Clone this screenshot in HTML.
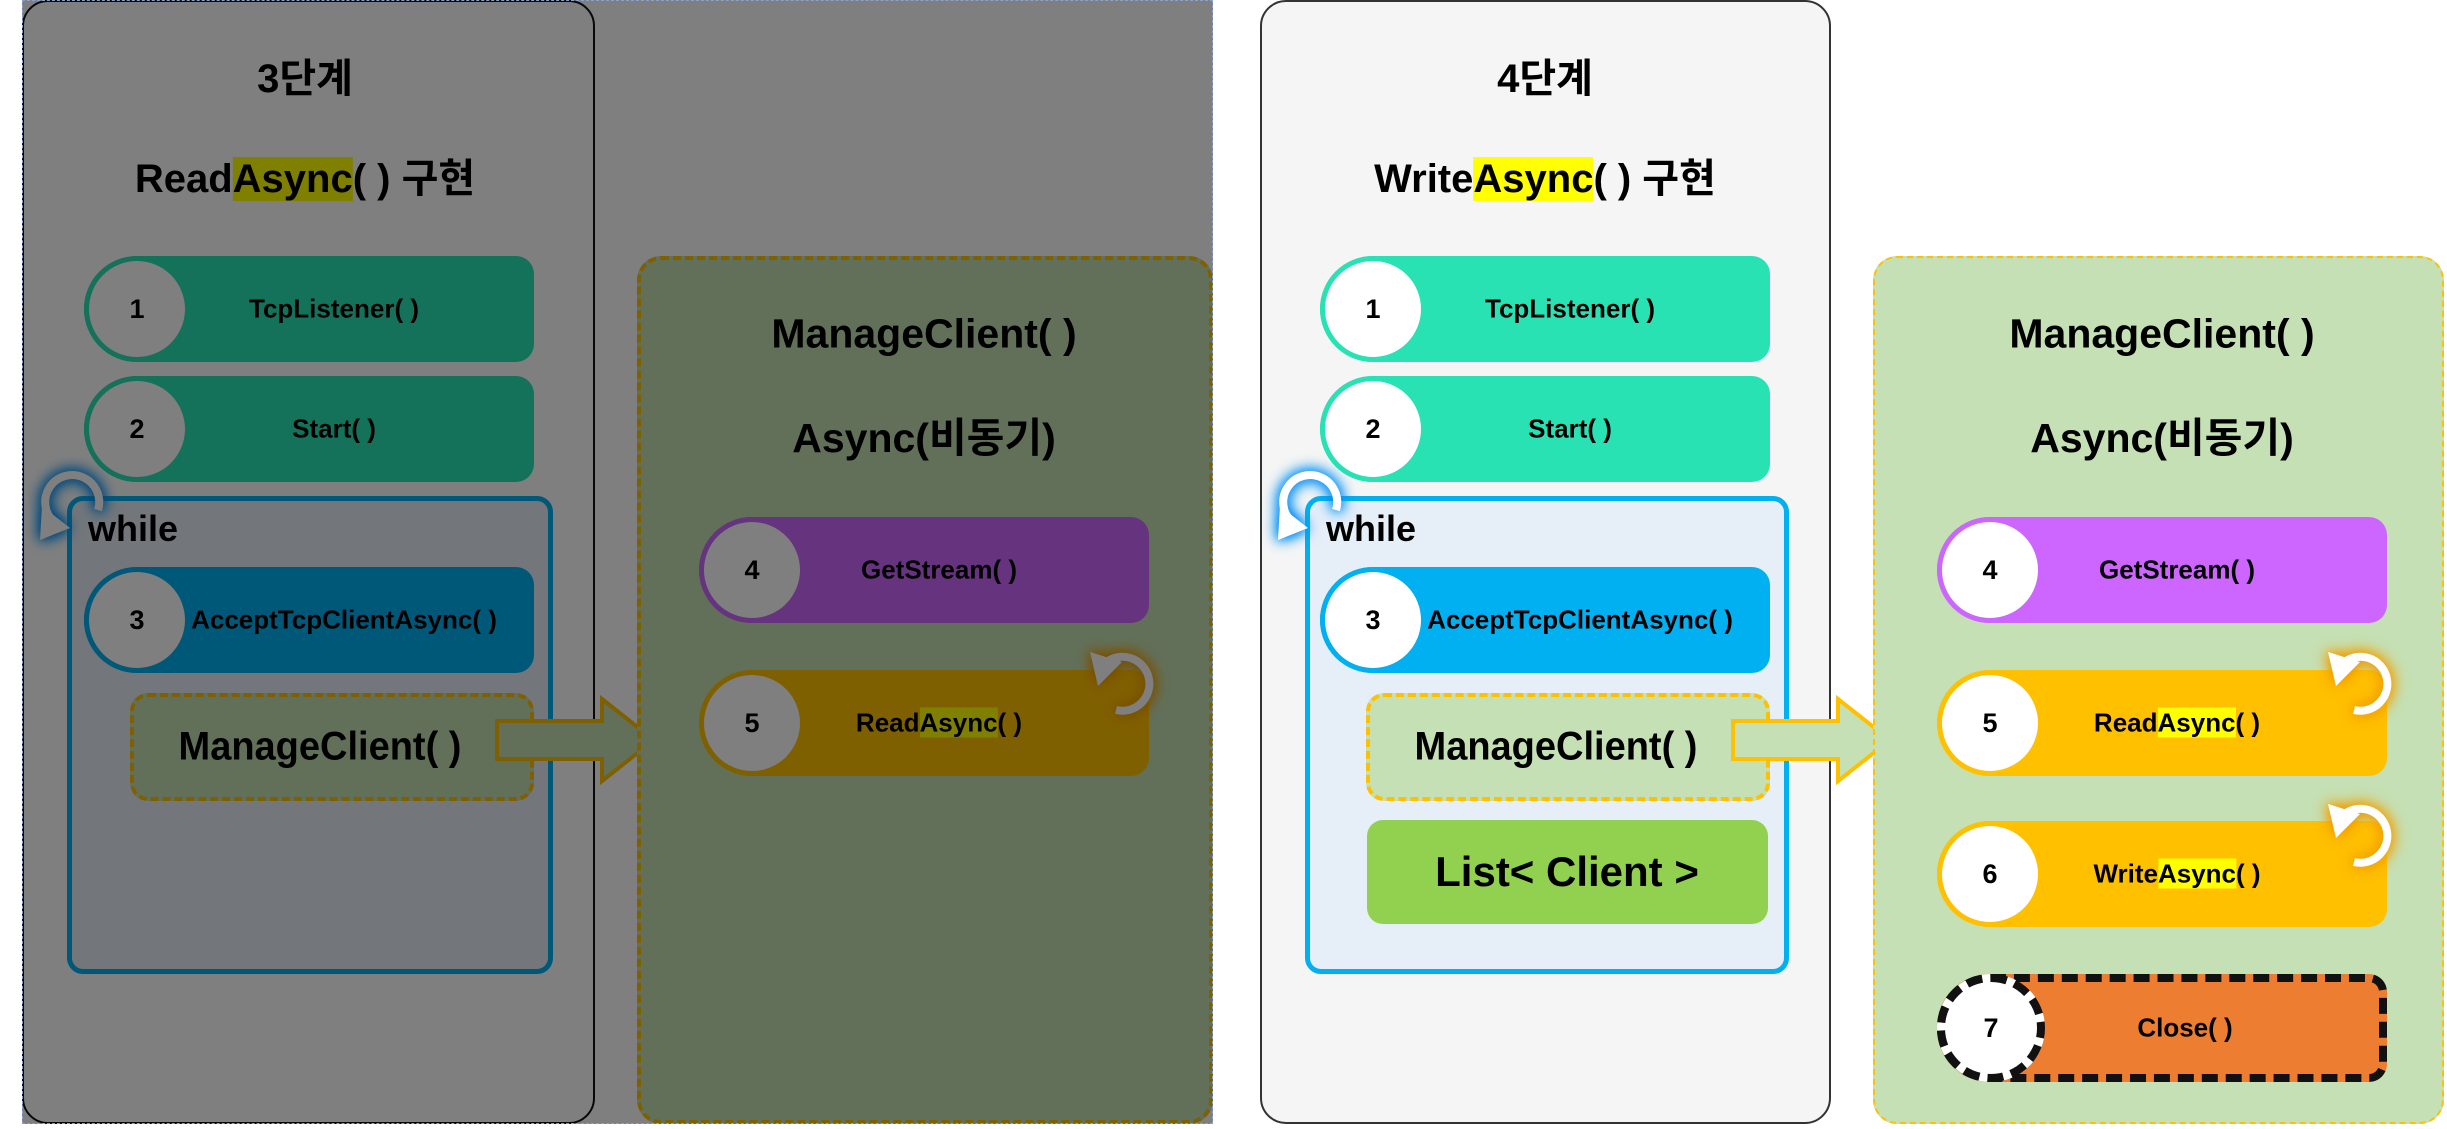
<!DOCTYPE html>
<html><head><meta charset="utf-8">
<style>
body{margin:0;width:2447px;height:1129px;background:#fff;position:relative;overflow:hidden;font-family:"Liberation Sans","Noto Sans CJK KR",sans-serif;font-weight:bold;color:#000}
.a{position:absolute}
.panel{position:absolute;box-sizing:border-box}
.t{position:absolute;white-space:nowrap;transform:translate(-50%,-50%);font-weight:bold}
.pill{position:absolute;box-sizing:border-box;height:106px;width:450px;border-radius:53px 18px 18px 53px}
.circ{position:absolute;left:0;top:0;width:106px;height:106px;box-sizing:border-box;border-radius:50%;background:#fff;border:5px solid;display:flex;align-items:center;justify-content:center;font-size:27px}
.pt{position:absolute;top:53px;transform:translate(-50%,-50%);white-space:nowrap;font-size:26px}
.hl{background:#ffff00}
.grp{position:absolute;left:0;top:0;width:2447px;height:1129px}
.mc{font-size:40px;font-weight:bold;transform:translate(-50%,-50%) scaleX(0.95)}
</style></head><body>

<!-- RIGHT (4단계) -->
<div class="grp" id="R">
  <div class="panel" style="left:1260px;top:0;width:571px;height:1124px;border:2px solid #333;border-radius:26px;background:#f5f5f5"></div>
  <div class="t" style="left:1545px;top:75px;font-size:40px">4단계</div>
  <div class="t" style="left:1545px;top:175px;font-size:40px">Write<span class="hl">Async</span>( ) 구현</div>

  <div class="pill" style="left:1320px;top:256px;background:#28e2b4"><div class="circ" style="border-color:#28e2b4">1</div><div class="pt" style="left:250px">TcpListener( )</div></div>
  <div class="pill" style="left:1320px;top:376px;background:#28e2b4"><div class="circ" style="border-color:#28e2b4">2</div><div class="pt" style="left:250px">Start( )</div></div>

  <div class="panel" style="left:1305px;top:496px;width:484px;height:478px;border:5px solid #00b0f0;border-radius:16px;background:#e6eef8"></div>
  <div class="a" style="left:1326px;top:508px;font-size:36px">while</div>
  <div class="pill" style="left:1320px;top:567px;background:#00b0f0"><div class="circ" style="border-color:#00b0f0">3</div><div class="pt" style="left:260px">AcceptTcpClientAsync( )</div></div>

  <div class="panel" style="left:1366px;top:693px;width:404px;height:108px;border:4px dashed #ffc000;border-radius:18px;background:#c5e0b4"></div>
  <div class="t mc" style="left:1556px;top:747px">ManageClient( )</div>
  <div class="panel" style="left:1367px;top:820px;width:401px;height:104px;border-radius:16px;background:#92d050"></div>
  <div class="t" style="left:1567px;top:872px;font-size:42px">List&lt; Client &gt;</div>

  <svg class="a" style="left:1730px;top:695px" width="170" height="92"><polygon points="3,26 108,26 108,4 160,45 108,86 108,64 3,64" fill="#c5e0b4" stroke="#ffc000" stroke-width="4"/></svg>

  <div class="panel" style="left:1873px;top:256px;width:571px;height:868px;border:2px dashed #ffc000;border-radius:24px;background:#c5e0b4"></div>
  <div class="t" style="left:2162px;top:334px;font-size:41px">ManageClient( )</div>
  <div class="t" style="left:2162px;top:434px;font-size:41px">Async(비동기)</div>

  <div class="pill" style="left:1937px;top:517px;background:#cc66ff"><div class="circ" style="border-color:#cc66ff">4</div><div class="pt" style="left:240px">GetStream( )</div></div>
  <div class="pill" style="left:1937px;top:670px;background:#ffc000"><div class="circ" style="border-color:#ffc000">5</div><div class="pt" style="left:240px">Read<span class="hl">Async</span>( )</div></div>
  <div class="pill" style="left:1937px;top:821px;background:#ffc000"><div class="circ" style="border-color:#ffc000">6</div><div class="pt" style="left:240px">Write<span class="hl">Async</span>( )</div></div>
  <div class="pill" style="left:1937px;top:974px;background:#ed7d31;border:8px dashed #111;height:108px"><div class="circ" style="border:8px dashed #111;left:-8px;top:-8px;width:108px;height:108px">7</div><div class="pt" style="left:240px;top:46px">Close( )</div></div>

  <svg class="a" style="left:2318px;top:638px;filter:drop-shadow(0 0 7px #e39000) drop-shadow(0 0 5px #ffb000)" width="90" height="90"><path d="M24,26 A27,27 0 1 1 36,72" fill="none" stroke="#fff" stroke-width="8"/><polygon points="10,14 42,24 18,48" fill="#fff"/></svg>
  <svg class="a" style="left:2318px;top:790px;filter:drop-shadow(0 0 7px #e39000) drop-shadow(0 0 5px #ffb000)" width="90" height="90"><path d="M24,26 A27,27 0 1 1 36,72" fill="none" stroke="#fff" stroke-width="8"/><polygon points="10,14 42,24 18,48" fill="#fff"/></svg>
  <svg class="a" style="left:1266px;top:462px;filter:drop-shadow(0 0 7px #0070ff) drop-shadow(0 0 5px #00b0f0)" width="90" height="90"><path d="M70,48 A27,27 0 1 0 26,60" fill="none" stroke="#fff" stroke-width="8"/><polygon points="14,44 42,66 12,78" fill="#fff"/></svg>
</div>

<!-- LEFT (3단계) -->
<div class="grp" style="left:-1238px">
  <div class="panel" style="left:1260px;top:0;width:573px;height:1124px;border:2px solid #111;border-radius:26px;background:#fff"></div>
  <div class="t" style="left:1543px;top:75px;font-size:40px">3단계</div>
  <div class="t" style="left:1543px;top:175px;font-size:40px">Read<span class="hl">Async</span>( ) 구현</div>

  <div class="pill" style="left:1322px;top:256px;background:#28e2b4"><div class="circ" style="border-color:#28e2b4">1</div><div class="pt" style="left:250px">TcpListener( )</div></div>
  <div class="pill" style="left:1322px;top:376px;background:#28e2b4"><div class="circ" style="border-color:#28e2b4">2</div><div class="pt" style="left:250px">Start( )</div></div>

  <div class="panel" style="left:1305px;top:496px;width:486px;height:478px;border:5px solid #00b0f0;border-radius:16px;background:#e6eef8"></div>
  <div class="a" style="left:1326px;top:508px;font-size:36px">while</div>
  <div class="pill" style="left:1322px;top:567px;background:#00b0f0"><div class="circ" style="border-color:#00b0f0">3</div><div class="pt" style="left:260px">AcceptTcpClientAsync( )</div></div>

  <div class="panel" style="left:1368px;top:693px;width:404px;height:108px;border:4px dashed #ffc000;border-radius:18px;background:#c5e0b4"></div>
  <div class="t mc" style="left:1558px;top:747px">ManageClient( )</div>

  <svg class="a" style="left:1732px;top:695px" width="170" height="92"><polygon points="3,26 108,26 108,4 160,45 108,86 108,64 3,64" fill="#c5e0b4" stroke="#ffc000" stroke-width="4"/></svg>

  <div class="panel" style="left:1875px;top:256px;width:576px;height:868px;border:4px dashed #ffc000;border-radius:24px;background:#c5e0b4"></div>
  <div class="t" style="left:2162px;top:334px;font-size:41px">ManageClient( )</div>
  <div class="t" style="left:2162px;top:434px;font-size:41px">Async(비동기)</div>

  <div class="pill" style="left:1937px;top:517px;background:#cc66ff"><div class="circ" style="border-color:#cc66ff">4</div><div class="pt" style="left:240px">GetStream( )</div></div>
  <div class="pill" style="left:1937px;top:670px;background:#ffc000"><div class="circ" style="border-color:#ffc000">5</div><div class="pt" style="left:240px">Read<span class="hl">Async</span>( )</div></div>

  <svg class="a" style="left:2318px;top:638px;filter:drop-shadow(0 0 7px #e39000) drop-shadow(0 0 5px #ffb000)" width="90" height="90"><path d="M24,26 A27,27 0 1 1 36,72" fill="none" stroke="#fff" stroke-width="8"/><polygon points="10,14 42,24 18,48" fill="#fff"/></svg>
  <svg class="a" style="left:1266px;top:462px;filter:drop-shadow(0 0 7px #0070ff) drop-shadow(0 0 5px #00b0f0)" width="90" height="90"><path d="M70,48 A27,27 0 1 0 26,60" fill="none" stroke="#fff" stroke-width="8"/><polygon points="14,44 42,66 12,78" fill="#fff"/></svg>
</div>
<div class="a" style="left:22px;top:0;width:1191px;height:1124px;background:rgba(0,0,0,0.5);border:1px dashed #8aa0d0;box-sizing:border-box"></div>
</body></html>
